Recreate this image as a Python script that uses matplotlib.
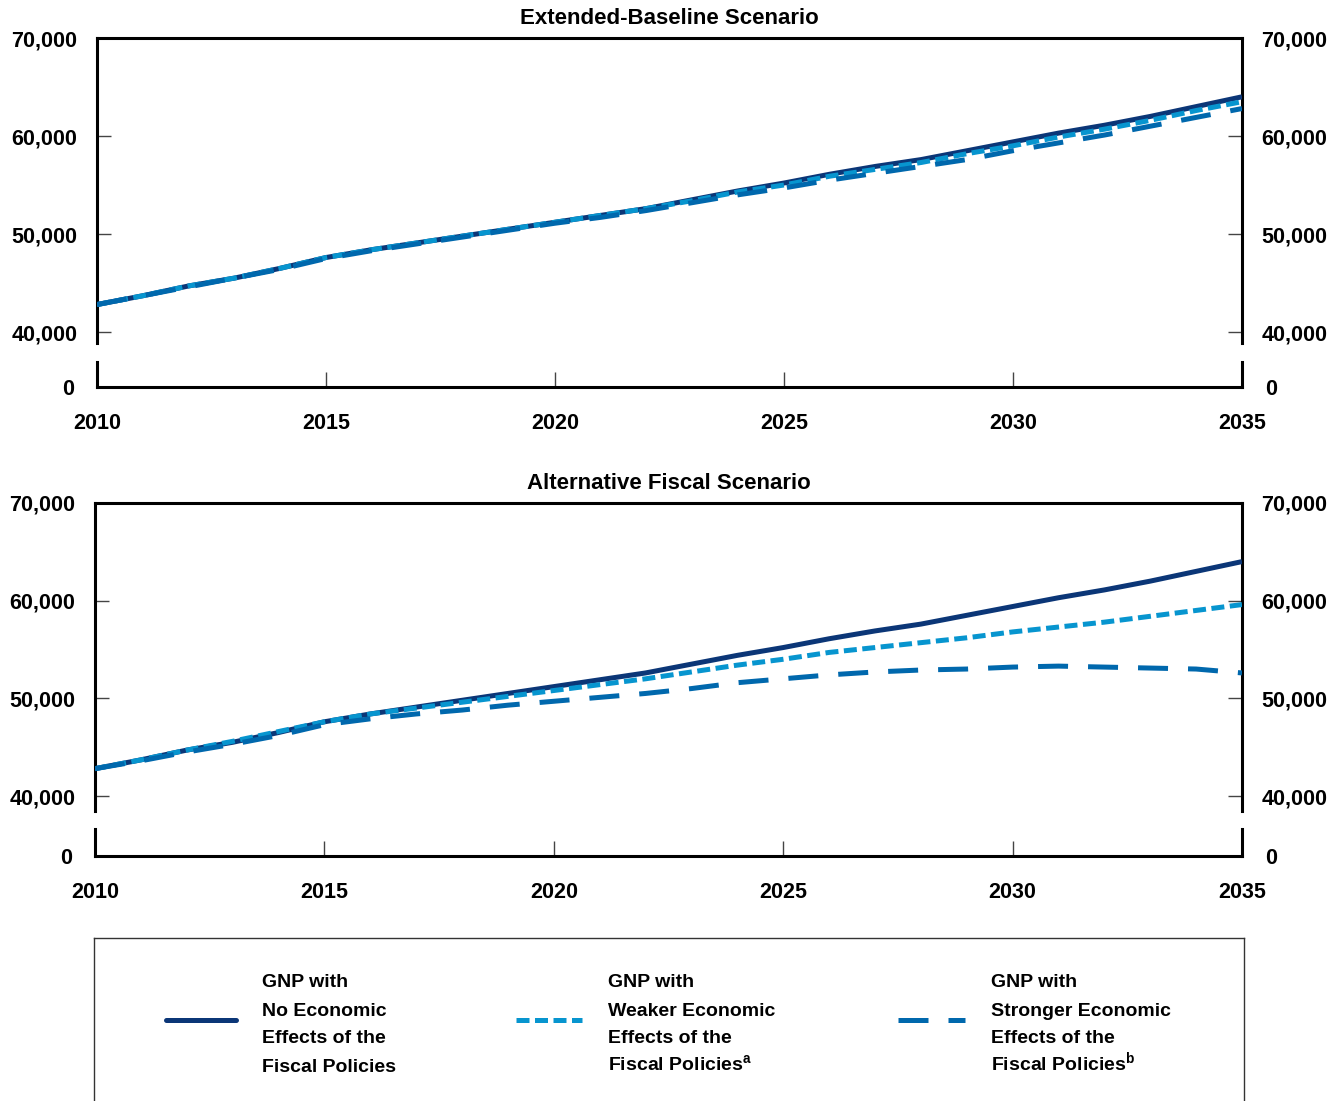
import numpy as np
import matplotlib
matplotlib.use("Agg")
from matplotlib import pyplot as plt
from matplotlib.ticker import FuncFormatter

plt.rcParams['font.family'] = ['Liberation Sans', 'DejaVu Sans']
plt.rcParams['font.weight'] = 'bold'
plt.rcParams['mathtext.fontset'] = 'custom'
plt.rcParams['mathtext.bf'] = 'Liberation Sans:bold'
plt.rcParams['mathtext.rm'] = 'Liberation Sans:bold'

years = np.arange(2010, 2036)

# GNP, billions of dollars (thousands)
no_effects = [42.8, 43.7, 44.7, 45.5, 46.5, 47.6, 48.4, 49.1, 49.8, 50.5,
              51.2, 51.9, 52.6, 53.5, 54.4, 55.2, 56.1, 56.9, 57.6, 58.5,
              59.4, 60.3, 61.1, 62.0, 63.0, 64.0]
base_weaker = [42.8, 43.7, 44.7, 45.5, 46.5, 47.6, 48.4, 49.1, 49.8, 50.5,
               51.2, 51.9, 52.6, 53.4, 54.3, 55.0, 55.9, 56.6, 57.3, 58.2,
               59.0, 59.9, 60.7, 61.6, 62.6, 63.5]
base_stronger = [42.8, 43.7, 44.6, 45.5, 46.4, 47.5, 48.3, 49.0, 49.7, 50.4,
                 51.1, 51.7, 52.4, 53.2, 54.0, 54.7, 55.5, 56.2, 56.9, 57.6,
                 58.5, 59.3, 60.1, 61.0, 61.9, 62.8]
alt_weaker = [42.8, 43.7, 44.7, 45.6, 46.6, 47.6, 48.4, 49.0, 49.6, 50.2,
              50.8, 51.4, 52.0, 52.7, 53.4, 54.0, 54.7, 55.2, 55.7, 56.2,
              56.8, 57.3, 57.8, 58.4, 59.0, 59.6]
alt_stronger = [42.8, 43.6, 44.5, 45.3, 46.2, 47.3, 47.9, 48.4, 48.8, 49.3,
                49.7, 50.1, 50.5, 51.0, 51.6, 52.0, 52.4, 52.7, 52.9, 53.0,
                53.2, 53.3, 53.2, 53.1, 53.0, 52.6]

y_ticks = [40000, 50000, 60000, 70000]
x_ticks = [2010, 2015, 2020, 2025, 2030, 2035]

c_none = '#0b3677'
c_weak = '#0795cf'
c_strong = '#0068ad'
lw = 3.6
dot_style = (0, (2.6, 1.1))
dash_style = (0, (6.0, 4.0))
fs = 15.5

W, H = 1342, 1101
fig = plt.figure(figsize=(W / 100, H / 100), dpi=100)

comma = FuncFormatter(lambda v, p: f"{v:,.0f}")


def panel(x0, x1, top, spine_end, gap_top, axis_y, ymin, title, weak, strong):
    left = x0 / W
    width = (x1 - x0) / W
    ax = fig.add_axes([left, 1 - spine_end / H, width, (spine_end - top) / H])
    ax.plot(years, np.array(no_effects) * 1000, color=c_none, lw=lw,
            solid_capstyle='butt', zorder=3)
    ax.plot(years, np.array(weak) * 1000, color=c_weak, lw=lw,
            linestyle=dot_style, zorder=4)
    ax.plot(years, np.array(strong) * 1000, color=c_strong, lw=lw,
            linestyle=dash_style, zorder=5)
    ax.set_xlim(2010, 2035)
    ax.set_ylim(ymin, 70000)
    ax.set_yticks(y_ticks)
    ax.yaxis.set_major_formatter(comma)
    ax.set_xticks([])
    ax.spines['bottom'].set_visible(False)
    for s in ['top', 'left', 'right']:
        ax.spines[s].set_linewidth(2.2)
    ax.tick_params(axis='y', direction='in', length=10, width=1,
                   color='#444444', left=True, right=True,
                   labelleft=True, labelright=True, pad=14, labelsize=fs)
    ax.set_title(title, fontsize=16, fontweight='bold', pad=10)

    lo = fig.add_axes([left, 1 - axis_y / H, width, (axis_y - gap_top) / H])
    lo.set_xlim(2010, 2035)
    lo.set_ylim(0, 1)
    lo.set_yticks([0])
    lo.set_yticklabels(['0'])
    lo.set_xticks(x_ticks)
    lo.spines['top'].set_visible(False)
    for s in ['bottom', 'left', 'right']:
        lo.spines[s].set_linewidth(2.2)
    lo.tick_params(axis='y', left=False, right=False, labelleft=True,
                   labelright=True, pad=13, labelsize=fs)
    lo.tick_params(axis='x', direction='in', length=11, width=1,
                   color='#444444', pad=19, labelsize=fs)
    return ax


panel(97, 1242, 38, 343, 362, 387, 38878, 'Extended-Baseline Scenario',
      base_weaker, base_stronger)
panel(95, 1242, 503, 811, 829, 856, 38465, 'Alternative Fiscal Scenario',
      alt_weaker, alt_stronger)

# legend box
leg = fig.add_axes([94 / W, 0, (1244 - 94) / W, (H - 938) / H])
leg.set_xlim(94, 1244)
leg.set_ylim(H, 938)
leg.set_xticks([])
leg.set_yticks([])
leg.spines['bottom'].set_visible(False)
for s in ['top', 'left', 'right']:
    leg.spines[s].set_linewidth(1.0)
    leg.spines[s].set_color('#333333')

labels = [["GNP with", "No Economic", "Effects of the", "Fiscal Policies"],
          ["GNP with", "Weaker Economic", "Effects of the",
           r"Fiscal Policies$^{\mathbf{a}}$"],
          ["GNP with", "Stronger Economic", "Effects of the",
           r"Fiscal Policies$^{\mathbf{b}}$"]]
handle_x = [(166, 236), (516, 582), (898, 965)]
text_x = [262, 608, 991]
baselines = [987, 1015.5, 1043, 1071.5]
styles = [(c_none, '-'), (c_weak, dot_style), (c_strong, dash_style)]
for (hx, (col, ls), tx, lab) in zip(handle_x, styles, text_x, labels):
    leg.plot(list(hx), [1020, 1020], color=col, lw=lw, linestyle=ls,
             solid_capstyle='round' if ls == '-' else 'butt')
    for line, by in zip(lab, baselines):
        leg.text(tx, by, line, fontsize=14, fontweight='bold',
                 va='baseline', ha='left')

fig.savefig('out.png', dpi=100)
